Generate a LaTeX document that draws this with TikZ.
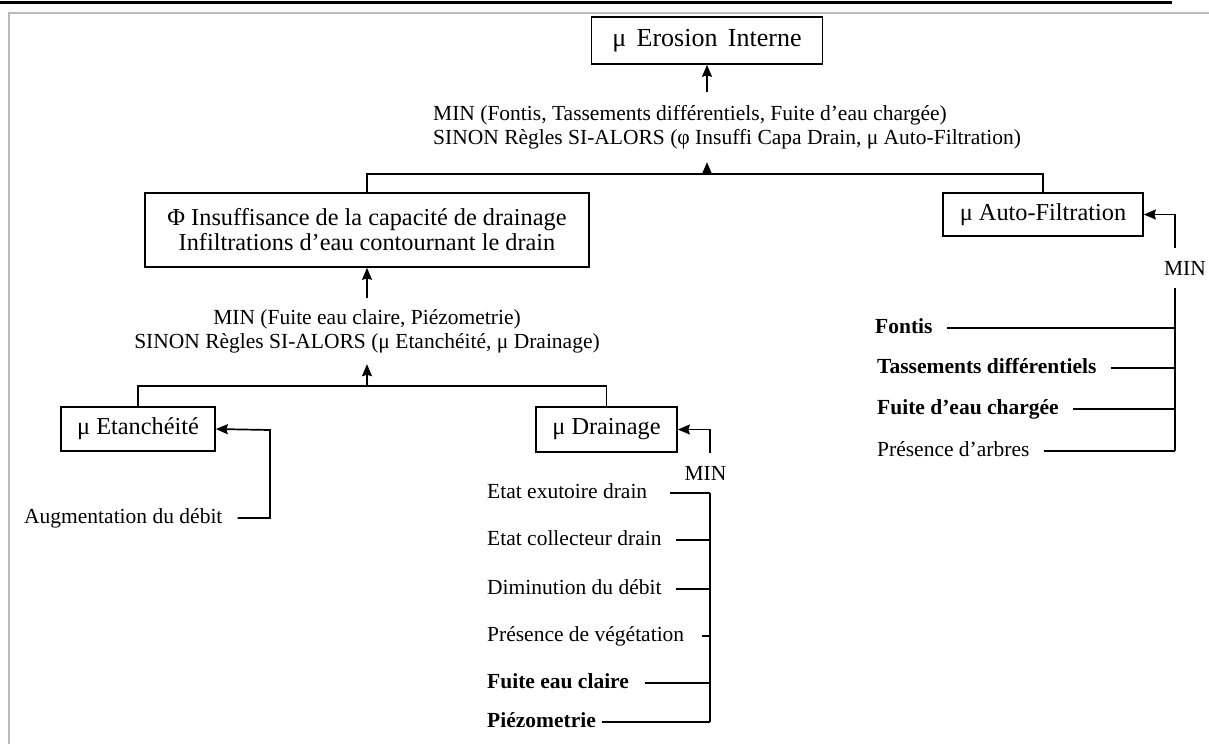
\documentclass[tikz,border=0pt]{standalone}
\usepackage{fontspec}
\setmainfont{Liberation Serif}
\usetikzlibrary{arrows.meta}
\tikzset{> = {Stealth[length = 12, width = 10, inset = 1.5]},
  box/.style = {draw, line width = 1.7, inner sep = 0, align = center,
    font = \fontsize{24.3}{25}\selectfont},
  rule/.style = {inner sep = 0, font = \fontsize{21.5}{24}\selectfont},
  leaf/.style = {anchor = west, inner sep = 0, text height = 15, text depth = 5,
    font = \fontsize{21.5}{24}\selectfont},
  leafb/.style = {leaf, font = \fontsize{21.5}{24}\selectfont\bfseries},
  wire/.style = {line width = 1.7},
  bus/.style = {line width = 2.8},
  feed/.style = {line width = 1.6, shorten < = 14}}

\begin{document}
\begin{tikzpicture}[x = 1pt, y = -1pt]
  \useasboundingbox (0,0) rectangle (1209,744);
  % frame
  \draw [line width = 3] (0,2.5) -- (1172,2.5);
  \draw [black!27, line width = 2] (1209,13) -- (8.5,13) -- (8.5,744);
  % nodes
  \node [box, minimum width = 231, minimum height = 47,
    font = \fontsize{26}{27}\selectfont] (erosion) at (707,40.5)
    {μ\hspace{0.4em}Erosion\hspace{0.4em}Interne};
  \node [rule, align = left, anchor = west, minimum height = 70] (ruleE) at (433,127)
    {MIN (Fontis, Tassements différentiels, Fuite d’eau chargée)\\
     SINON Règles SI-ALORS (φ Insuffi Capa Drain, μ Auto-Filtration)};
  \node [box, minimum width = 444, minimum height = 74] (insuff) at (367,230)
    {Φ Insuffisance de la capacité de drainage\\Infiltrations d’eau contournant le drain};
  \node [box, minimum width = 200, minimum height = 43] (autof) at (1043,214.5) {μ Auto-Filtration};
  \node [rule, align = center, minimum height = 66] (ruleI) at (367,331)
    {MIN (Fuite eau claire, Piézometrie)\\
     SINON Règles SI-ALORS (μ Etanchéité, μ Drainage)};
  \node [box, minimum width = 154, minimum height = 44] (etanch) at (138,429) {μ Etanchéité};
  \node [box, minimum width = 141, minimum height = 45] (drain) at (606.5,429.5) {μ Drainage};
  \node [rule, minimum height = 40] (minD) at (705.5,473) {MIN};
  \node [rule, minimum height = 40] (minA) at (1185,268) {MIN};
  % inputs
  \node [leaf] (augm) at (24,518) {Augmentation du débit};
  \node [leaf] (exut) at (487,493) {Etat exutoire drain};
  \node [leaf] (coll) at (487,540) {Etat collecteur drain};
  \node [leaf] (dimi) at (487,589) {Diminution du débit};
  \node [leaf] (vege) at (487,636) {Présence de végétation};
  \node [leafb] (claire) at (487,683) {Fuite eau claire};
  \node [leafb] (piezo) at (487,722) {Piézometrie};
  \node [leafb] (fontis) at (875,328) {Fontis};
  \node [leafb] (tass) at (877,368) {Tassements différentiels};
  \node [leafb] (charg) at (877,409) {Fuite d’eau chargée};
  \node [leaf] (arbres) at (877,451) {Présence d’arbres};
  % junctions
  \coordinate (jE) at (707,174);
  \coordinate (jI) at (367,386);
  \coordinate (busE) at (270,430);
  \coordinate (busD) at (710,453);
  \coordinate (busA) at (1175,248);
  % paths
  \draw [wire] (insuff.north) |- (jE) -| (autof.north);
  \draw [wire, ->] (jE) -- (ruleE.south -| jE);
  \draw [wire, ->] (ruleE.north -| jE) -- (erosion.south);
  \draw [wire] (etanch.north) |- (jI) -| (drain.north);
  \draw [wire, ->] (jI) -- (ruleI.south);
  \draw [wire, ->] (ruleI.north) -- (insuff.south);
  \draw [wire, ->, shorten < = 15] (augm.east) -| (busE) -- (etanch.east);
  % MIN drainage
  \draw [wire, ->] (busD) |- (drain.east);
  \draw [bus] (minD.south -| busD) -- (piezo.east -| busD);
  \draw [feed, shorten < = 23] (exut.east) -- (exut.east -| busD);
  \draw [feed] (coll.east) -- (coll.east -| busD);
  \draw [feed] (dimi.east) -- (dimi.east -| busD);
  \draw [feed, shorten < = 18] (vege.east) -- (vege.east -| busD);
  \draw [feed, shorten < = 16] (claire.east) -- (claire.east -| busD);
  \draw [feed, shorten < = 6] (piezo.east) -- (piezo.east -| busD);
  % MIN auto-filtration
  \draw [wire, ->] (busA) |- (autof.east);
  \draw [bus] (minA.south -| busA) -- (arbres.east -| busA);
  \draw [feed] (fontis.east) -- (fontis.east -| busA);
  \draw [feed] (tass.east) -- (tass.east -| busA);
  \draw [feed] (charg.east) -- (charg.east -| busA);
  \draw [feed] (arbres.east) -- (arbres.east -| busA);
\end{tikzpicture}
\end{document}
